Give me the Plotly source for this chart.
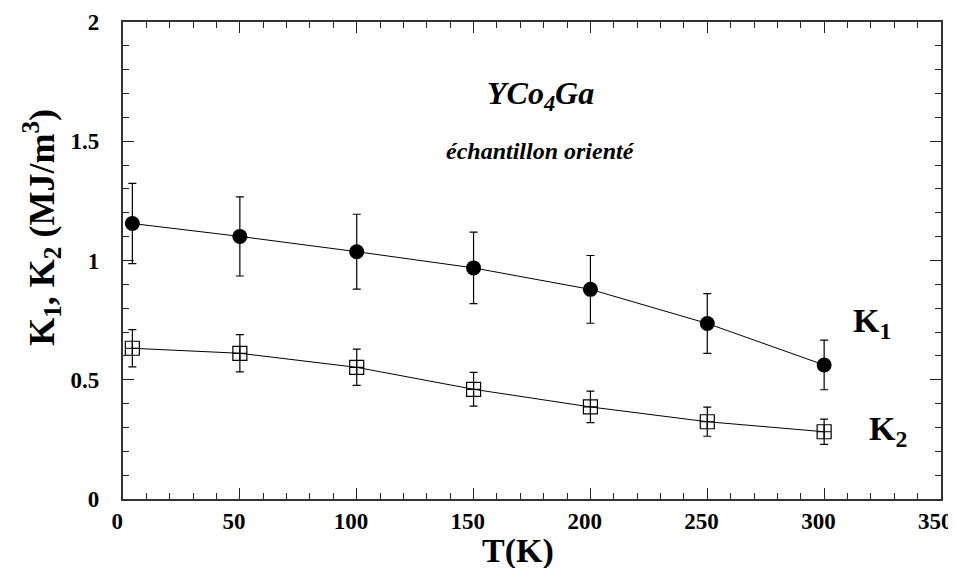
import plotly.graph_objects as go

T = [4, 50, 100, 150, 200, 250, 300]
K1 = [1.155, 1.101, 1.037, 0.969, 0.879, 0.736, 0.562]
K1_err = [0.168, 0.166, 0.157, 0.150, 0.142, 0.125, 0.104]
K2 = [0.632, 0.611, 0.552, 0.460, 0.386, 0.324, 0.282]
K2_err = [0.078, 0.078, 0.076, 0.071, 0.066, 0.061, 0.053]

x_ticks = [0, 50, 100, 150, 200, 250, 300, 350]
y_ticks = [0, 0.5, 1, 1.5, 2]
NBY = "\u00a0" * 3
NBX = "\u00a0" * 2
y_tick_text = ["<b>0</b>" + NBY, "<b>0.5</b>" + NBY, "<b>1</b>" + NBY, "<b>1.5</b>" + NBY, "<b>2</b>" + NBY]
x_tick_text = ["<b>%d</b>%s" % (v, NBX) for v in x_ticks]

FONT = "Liberation Serif"

fig = go.Figure()
fig.add_trace(go.Scatter(
    x=T, y=K1, mode="lines+markers",
    line=dict(color="black", width=1),
    marker=dict(symbol="circle", size=15, color="black"),
    error_y=dict(type="data", array=K1_err, visible=True, color="black", thickness=1.2, width=4),
    showlegend=False,
))
fig.add_trace(go.Scatter(
    x=T, y=K2, mode="lines+markers",
    line=dict(color="black", width=1),
    marker=dict(symbol="square-cross-open", size=14, color="black", line=dict(width=1.2, color="black")),
    error_y=dict(type="data", array=K2_err, visible=True, color="black", thickness=1.2, width=4),
    showlegend=False,
))

axis_common = dict(
    showline=True, mirror="allticks", linecolor="#333", linewidth=2,
    ticks="inside", ticklen=11, tickwidth=1.2, tickcolor="#222",
    showgrid=False, zeroline=False, ticklabeloverflow="allow",
    tickfont=dict(family=FONT, size=23, color="black"),
)

fig.update_xaxes(
    range=[0, 350], tickvals=x_ticks, ticktext=x_tick_text,
    minor=dict(dtick=10, ticks="inside", ticklen=6, tickwidth=1.2, tickcolor="#222", showgrid=False),
    **axis_common,
)
fig.update_yaxes(
    range=[0, 2], tickvals=y_ticks, ticktext=y_tick_text,
    minor=dict(dtick=0.1, ticks="inside", ticklen=6, tickwidth=1.2, tickcolor="#222", showgrid=False),
    **axis_common,
)

# axis titles
fig.add_annotation(x=0.483, y=-0.108, xref="paper", yref="paper", text="<b>T(K)</b>",
                   showarrow=False, xanchor="center", yanchor="middle", borderpad=0,
                   font=dict(family=FONT, size=34, color="black"))
fig.add_annotation(x=-0.100, y=0.569, xref="paper", yref="paper",
                   text="<b>K<sub>1</sub>, K<sub>2</sub> (MJ/m<sup>3</sup>)</b>",
                   showarrow=False, textangle=-90, xanchor="center", yanchor="middle",
                   font=dict(family=FONT, size=36, color="black"))

annots = [
    dict(x=178.5, y=1.69, text="<b><i>YCo<sub>4</sub>Ga</i></b>", size=32),
    dict(x=178.5, y=1.46, text="<b><i>échantillon orienté</i></b>", size=24),
    dict(x=320.5, y=0.74, text="<b>K<sub>1</sub></b>", size=34),
    dict(x=327.5, y=0.285, text="<b>K<sub>2</sub></b>", size=34),
]
for a in annots:
    fig.add_annotation(x=a["x"], y=a["y"], xref="x", yref="y", text=a["text"],
                       showarrow=False, font=dict(family=FONT, size=a["size"], color="black"))

# page body adds an 8px offset; figure is sized so the plot lands where the reference has it
fig.update_layout(
    width=948, height=560,
    margin=dict(l=115, r=15, t=14, b=69, autoexpand=False),
    paper_bgcolor="white", plot_bgcolor="white",
    font=dict(family=FONT, color="black"),
)

fig.write_html("out.html")
